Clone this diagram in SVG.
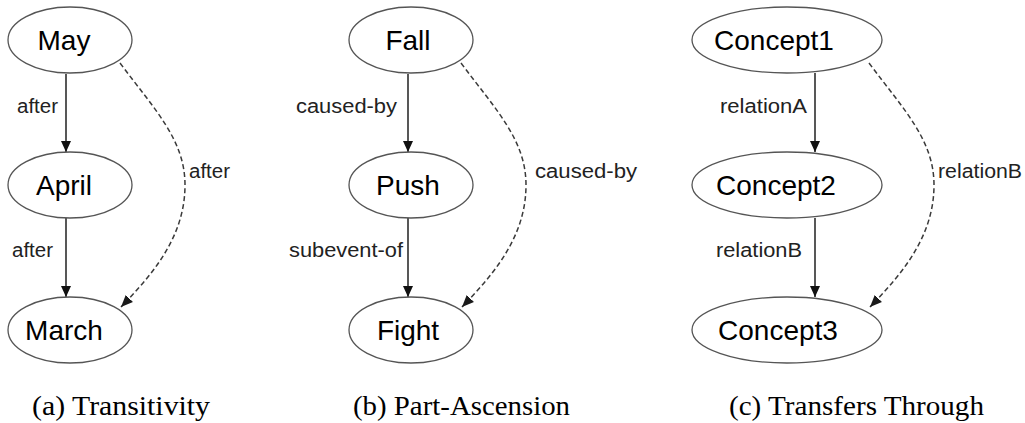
<svg xmlns="http://www.w3.org/2000/svg" width="1025" height="423" viewBox="0 0 1025 423">
  <style>
    .node ellipse { fill: #ffffff; stroke: #555555; stroke-width: 1.3; }
    .node text { font-family: "Liberation Sans", Arial, sans-serif; font-size: 28px; fill: #000000; text-anchor: middle; }
    .edge { fill: none; stroke: #111111; stroke-width: 1.4; }
    .edge.inferred { stroke: #3a3a3a; stroke-width: 1.5; stroke-dasharray: 5 3; }
    .elabel { font-family: "Liberation Sans", Arial, sans-serif; font-size: 20px; fill: #222222; }
    .caption { font-family: "Liberation Serif", "Times New Roman", serif; font-size: 27px; fill: #000000; }
  </style>
  <defs>
    <marker id="arrow" markerUnits="userSpaceOnUse" markerWidth="11" markerHeight="11" refX="11" refY="5.5" orient="auto">
      <path d="M0,0.5 L11,5.5 L0,10.5 z" fill="#111111"/>
    </marker>
    <marker id="arrow-dashed" markerUnits="userSpaceOnUse" markerWidth="12" markerHeight="12" refX="12" refY="6" orient="auto">
      <path d="M0,1 L12,6 L0,11 z" fill="#1a1a1a"/>
    </marker>
  </defs>

  <rect width="1025" height="423" fill="#ffffff"/>

  <!-- connectors -->
  <g id="connectors">
    <!-- (a) transitivity -->
    <path class="edge" d="M66,74 L66,152" marker-end="url(#arrow)"/>
    <path class="edge" d="M66,218 L66,297" marker-end="url(#arrow)"/>
    <path class="edge inferred" d="M120,63 C155,110 185,140 185,185 C185,235 155,272 121,307" marker-end="url(#arrow-dashed)"/>
    <text class="elabel" x="17" y="113" textLength="41" lengthAdjust="spacingAndGlyphs">after</text>
    <text class="elabel" x="12" y="257" textLength="41" lengthAdjust="spacingAndGlyphs">after</text>
    <text class="elabel" x="189" y="178" textLength="41" lengthAdjust="spacingAndGlyphs">after</text>

    <!-- (b) part-ascension -->
    <path class="edge" d="M408,74 L408,152" marker-end="url(#arrow)"/>
    <path class="edge" d="M408,218 L408,297" marker-end="url(#arrow)"/>
    <path class="edge inferred" d="M461,63 C496,110 526,140 526,185 C526,235 496,272 462,307" marker-end="url(#arrow-dashed)"/>
    <text class="elabel" x="296" y="113" textLength="101" lengthAdjust="spacingAndGlyphs">caused-by</text>
    <text class="elabel" x="289" y="257" textLength="114" lengthAdjust="spacingAndGlyphs">subevent-of</text>
    <text class="elabel" x="535" y="178" textLength="102" lengthAdjust="spacingAndGlyphs">caused-by</text>

    <!-- (c) transfers through -->
    <path class="edge" d="M815,73 L815,152" marker-end="url(#arrow)"/>
    <path class="edge" d="M815,218 L815,297" marker-end="url(#arrow)"/>
    <path class="edge inferred" d="M869,63 C904,110 934,140 934,185 C934,235 904,272 870,307" marker-end="url(#arrow-dashed)"/>
    <text class="elabel" x="720" y="113" textLength="87" lengthAdjust="spacingAndGlyphs">relationA</text>
    <text class="elabel" x="716" y="257" textLength="86" lengthAdjust="spacingAndGlyphs">relationB</text>
    <text class="elabel" x="938" y="178" textLength="84" lengthAdjust="spacingAndGlyphs">relationB</text>
  </g>

  <!-- nodes: (a) -->
  <g id="may" class="node">
    <ellipse cx="70" cy="40" rx="62" ry="33"/>
    <text x="64" y="50">May</text>
  </g>
  <g id="april" class="node">
    <ellipse cx="70" cy="185" rx="62" ry="33"/>
    <text x="64" y="195">April</text>
  </g>
  <g id="march" class="node">
    <ellipse cx="70" cy="330" rx="62" ry="33"/>
    <text x="64" y="340">March</text>
  </g>

  <!-- nodes: (b) -->
  <g id="fall" class="node">
    <ellipse cx="411" cy="40" rx="62" ry="33"/>
    <text x="408" y="50">Fall</text>
  </g>
  <g id="push" class="node">
    <ellipse cx="411" cy="185" rx="62" ry="33"/>
    <text x="408" y="195">Push</text>
  </g>
  <g id="fight" class="node">
    <ellipse cx="411" cy="330" rx="62" ry="33"/>
    <text x="408" y="340">Fight</text>
  </g>

  <!-- nodes: (c) -->
  <g id="concept1" class="node">
    <ellipse cx="787" cy="40" rx="95" ry="33"/>
    <text x="774" y="50">Concept1</text>
  </g>
  <g id="concept2" class="node">
    <ellipse cx="787" cy="185" rx="95" ry="33"/>
    <text x="776" y="195">Concept2</text>
  </g>
  <g id="concept3" class="node">
    <ellipse cx="787" cy="330" rx="95" ry="33"/>
    <text x="778" y="340">Concept3</text>
  </g>

  <!-- sub-figure captions -->
  <g id="captions">
    <text class="caption" x="32" y="415" textLength="178" lengthAdjust="spacingAndGlyphs">(a)  Transitivity</text>
    <text class="caption" x="353" y="415" textLength="217" lengthAdjust="spacingAndGlyphs">(b)  Part-Ascension</text>
    <text class="caption" x="729" y="415" textLength="255" lengthAdjust="spacingAndGlyphs">(c)  Transfers Through</text>
  </g>
</svg>
